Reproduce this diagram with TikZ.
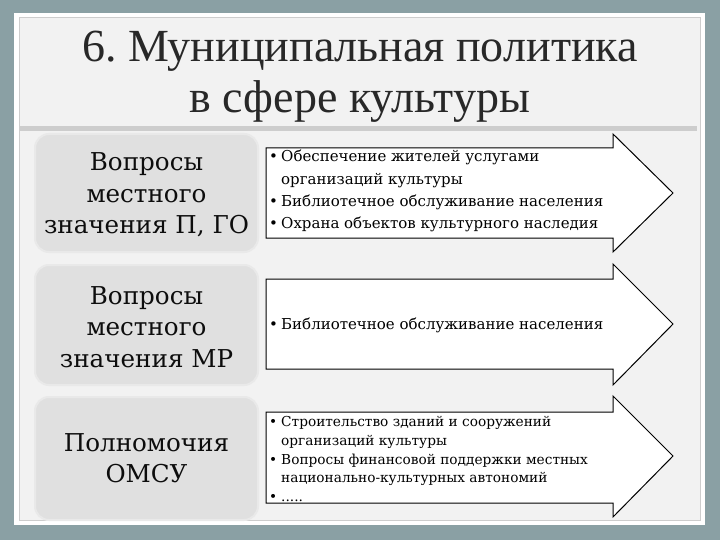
\documentclass[tikz,border=0pt]{standalone}
\usepackage{fontspec}
\setmainfont{Liberation Serif}
\newfontfamily\arrowfont{DejaVu Serif}
\newfontfamily\boxfont{DejaVu Serif}
\frenchspacing
\definecolor{bgteal}{RGB}{138,160,164}
\definecolor{panel}{RGB}{242,242,242}
\definecolor{panelline}{RGB}{205,205,205}
\definecolor{boxfill}{RGB}{224,224,224}
\definecolor{titlecol}{RGB}{40,40,40}
\tikzset{
  leftbox/.style={fill=boxfill, draw=boxfill!70!white, line width=2pt, rounded corners=14pt},
  lefttext/.style={font=\boxfont\fontsize{24.6}{31.5}\selectfont, align=center, text=black!95},
  arrowshape/.style={fill=white, draw=black, line width=1pt, line join=miter},
  arrowtext/.style={anchor=west, align=left, inner sep=0pt, text=black},
}
\newcommand{\bul}{\makebox[12pt][l]{\textbullet}}
\newcommand{\ind}{\hspace*{12pt}}
\begin{document}
\begin{tikzpicture}[x=1pt,y=-1pt]
\useasboundingbox (0,0) rectangle (720,540);
\fill[bgteal] (0,0) rectangle (720,540);
% panel
\fill[white] (14,13) rectangle (705,525);
\fill[panel] (19,17) rectangle (700,520);
\draw[panelline, line width=0.8pt] (19,17) rectangle (700,520);
\fill[panelline] (19,126) rectangle (697,131);
% title
\node[font=\fontsize{46}{51}\selectfont, text=titlecol, align=center] (title) at (360,77)
  {6. Муниципальная политика\\в сфере культуры};
% left boxes
\draw[leftbox] (35,134) rectangle (258,252);
\draw[leftbox] (35,265) rectangle (258,385);
\draw[leftbox] (35,397) rectangle (258,520);
\node[lefttext] (q1) at (146.5,195) {Вопросы\\местного\\значения П, ГО};
\node[lefttext] (q2) at (146.5,327) {Вопросы\\местного\\значения МР};
\node[lefttext] (q3) at (146.5,458) {Полномочия\\ОМСУ};
% arrows
\draw[arrowshape] (266,148) -- (613,148) -- (613,134) -- (673,193) -- (613,252) -- (613,238) -- (266,238) -- cycle;
\draw[arrowshape] (266,279) -- (613,279) -- (613,264) -- (673,324) -- (613,385) -- (613,369) -- (266,369) -- cycle;
\draw[arrowshape] (266,412) -- (613,412) -- (613,396) -- (673,456) -- (613,517) -- (613,503) -- (266,503) -- cycle;
\node[arrowtext, font=\arrowfont\fontsize{15}{22.3}\selectfont] (a1) at (269,191)
  {\bul Обеспечение жителей услугами\\\ind организаций культуры\\\bul Библиотечное обслуживание населения\\\bul Охрана объектов культурного наследия};
\node[arrowtext, font=\arrowfont\fontsize{15}{22.3}\selectfont] (a2) at (269,325)
  {\bul Библиотечное обслуживание населения};
\node[arrowtext, font=\arrowfont\fontsize{13.7}{18.7}\selectfont] (a3) at (269,459)
  {\bul Строительство зданий и сооружений\\\ind организаций культуры\\\bul Вопросы финансовой поддержки местных\\\ind национально-культурных автономий\\\bul .....};
\end{tikzpicture}
\end{document}
